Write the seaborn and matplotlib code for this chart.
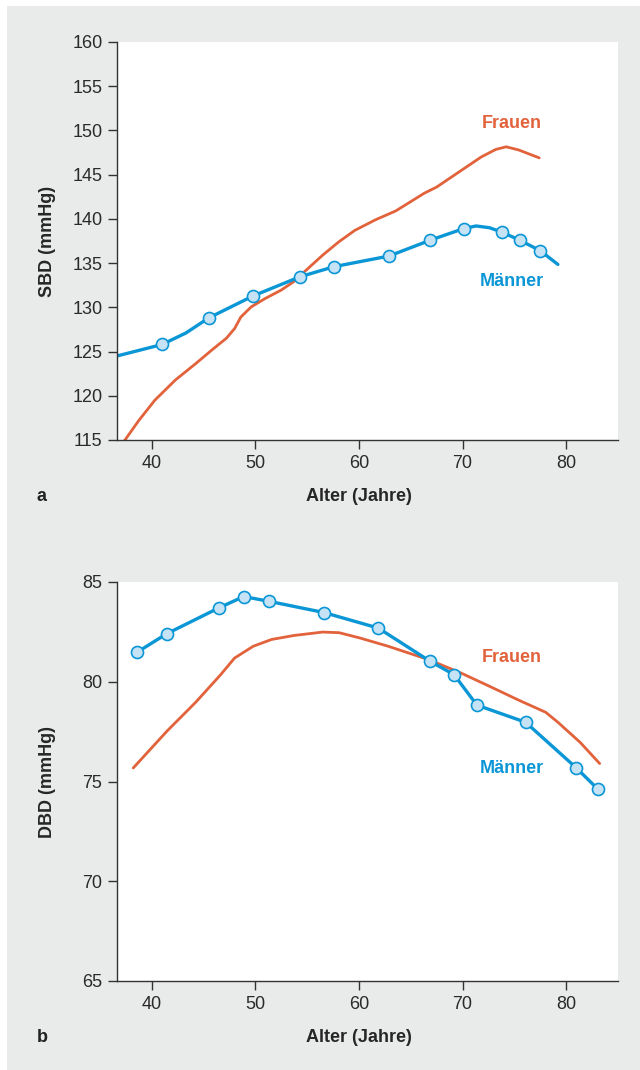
import matplotlib
matplotlib.use("Agg")
import matplotlib.pyplot as plt
import matplotlib.patches as patches
import pandas as pd
import seaborn as sns

# -----------------------------
# Data
# -----------------------------
# Panel a: systolic blood pressure (SBD)
frauen_a_age = [37.36, 38.75, 40.3, 42.3, 44.26, 45.83, 47.2, 48.0, 48.6, 49.6, 50.95,
                52.5, 53.7, 54.9, 56.5, 58.05, 59.6, 61.6, 63.55, 66.3, 67.5, 69.9,
                71.8, 73.2, 74.2, 75.4, 77.4]
frauen_a_sbd = [114.9, 117.2, 119.5, 121.8, 123.65, 125.2, 126.5, 127.6, 128.9, 130.05, 131.0,
                131.95, 132.9, 134.2, 135.9, 137.4, 138.7, 139.9, 140.9, 142.9, 143.6, 145.5,
                147.0, 147.85, 148.15, 147.8, 146.9]

maenner_a_age = [41.0, 45.5, 49.8, 54.3, 57.6, 62.9, 66.9, 70.1, 73.8, 75.5, 77.5]
maenner_a_sbd = [125.8, 128.8, 131.3, 133.45, 134.6, 135.8, 137.6, 138.9, 138.5, 137.6, 136.4]

# line trace of the men's curve (markers plus start, peak and end of the drawn curve)
maenner_a_line_age = [36.65, 41.0, 43.3, 45.5, 49.8, 54.3, 57.6, 62.9, 66.9, 70.1, 71.3,
                      72.6, 73.8, 75.5, 77.5, 79.2]
maenner_a_line_sbd = [124.5, 125.8, 127.1, 128.8, 131.3, 133.45, 134.6, 135.8, 137.6, 138.9, 139.2,
                      139.0, 138.5, 137.6, 136.4, 134.85]

# Panel b: diastolic blood pressure (DBD)
frauen_b_age = [38.22, 41.5, 44.26, 46.63, 48.0, 49.8, 51.57, 53.74, 56.5, 58.08, 60.05,
                62.82, 66.77, 69.92, 72.69, 75.45, 78.02, 79.2, 81.37, 83.23]
frauen_b_dbd = [75.68, 77.54, 78.98, 80.34, 81.19, 81.78, 82.12, 82.32, 82.49, 82.46, 82.2,
                81.78, 81.1, 80.42, 79.75, 79.07, 78.47, 77.97, 76.95, 75.9]

maenner_b_age = [38.62, 41.46, 46.51, 48.88, 51.33, 56.62, 61.87, 66.88, 69.17, 71.38, 76.08,
                 80.98, 83.03]
maenner_b_dbd = [81.49, 82.41, 83.71, 84.27, 84.03, 83.47, 82.69, 81.02, 80.36, 78.83, 77.97,
                 75.68, 74.63]

x_ticks = [40, 50, 60, 70, 80]
sbd_ticks = [115, 120, 125, 130, 135, 140, 145, 150, 155, 160]
dbd_ticks = [65, 70, 75, 80, 85]

# -----------------------------
# Style
# -----------------------------
ORANGE = "#e2623b"
BLUE = "#0b96d6"
LIGHTBLUE = "#c6e3f5"
AXIS = "#333333"
GREY_BG = "#e9eaea"

sns.set_style("ticks")
plt.rcParams["font.family"] = ["Liberation Sans", "DejaVu Sans"]
plt.rcParams["axes.edgecolor"] = AXIS
plt.rcParams["xtick.color"] = AXIS
plt.rcParams["ytick.color"] = AXIS

fig = plt.figure(figsize=(6.4, 10.7), dpi=100)
fig.patch.set_facecolor("white")
bg = patches.Rectangle((7 / 640, 0), 1, 1 - 6 / 1070, transform=fig.transFigure,
                       facecolor=GREY_BG, edgecolor="none", zorder=-10)
fig.patches.append(bg)

ax_a = fig.add_axes([117 / 640, 1 - 440 / 1070, 501 / 640, 398 / 1070])
ax_b = fig.add_axes([117 / 640, 1 - 981 / 1070, 501 / 640, 399 / 1070])

df_fa = pd.DataFrame({"age": frauen_a_age, "val": frauen_a_sbd})
df_ma_line = pd.DataFrame({"age": maenner_a_line_age, "val": maenner_a_line_sbd})
df_ma = pd.DataFrame({"age": maenner_a_age, "val": maenner_a_sbd})
df_fb = pd.DataFrame({"age": frauen_b_age, "val": frauen_b_dbd})
df_mb = pd.DataFrame({"age": maenner_b_age, "val": maenner_b_dbd})

# -----------------------------
# Panel a
# -----------------------------
sns.lineplot(data=df_fa, x="age", y="val", ax=ax_a, color=ORANGE, lw=2.0,
             sort=False, estimator=None)
sns.lineplot(data=df_ma_line, x="age", y="val", ax=ax_a, color=BLUE, lw=2.4,
             sort=False, estimator=None)
sns.scatterplot(data=df_ma, x="age", y="val", ax=ax_a, color=LIGHTBLUE, edgecolor=BLUE,
                linewidth=1.2, s=75, zorder=5)
ax_a.set_ylim(115, 160)
ax_a.set_yticks(sbd_ticks)
ax_a.set_ylabel("SBD (mmHg)")
ax_a.text(74.75, 150.8, "Frauen", color=ORANGE, fontsize=13, fontweight="bold",
          ha="center", va="center")
ax_a.text(74.75, 132.9, "Männer", color=BLUE, fontsize=13, fontweight="bold",
          ha="center", va="center")

# -----------------------------
# Panel b
# -----------------------------
sns.lineplot(data=df_fb, x="age", y="val", ax=ax_b, color=ORANGE, lw=2.0,
             sort=False, estimator=None)
sns.lineplot(data=df_mb, x="age", y="val", ax=ax_b, color=BLUE, lw=2.4,
             sort=False, estimator=None)
sns.scatterplot(data=df_mb, x="age", y="val", ax=ax_b, color=LIGHTBLUE, edgecolor=BLUE,
                linewidth=1.2, s=75, zorder=5)
ax_b.set_ylim(65, 85)
ax_b.set_yticks(dbd_ticks)
ax_b.set_ylabel("DBD (mmHg)")
ax_b.text(74.75, 81.22, "Frauen", color=ORANGE, fontsize=13, fontweight="bold",
          ha="center", va="center")
ax_b.text(74.75, 75.64, "Männer", color=BLUE, fontsize=13, fontweight="bold",
          ha="center", va="center")

# -----------------------------
# Shared axis formatting
# -----------------------------
for ax, letter in [(ax_a, "a"), (ax_b, "b")]:
    ax.set_facecolor("white")
    ax.set_xlim(36.65, 85.0)
    ax.set_xticks(x_ticks)
    ax.set_xlabel("Alter (Jahre)", fontsize=13, fontweight="bold", va="center")
    ax.xaxis.set_label_coords(0.483, -0.141)
    ax.yaxis.label.set_fontsize(13)
    ax.yaxis.label.set_fontweight("bold")
    ax.yaxis.label.set_va("center")
    ax.yaxis.set_label_coords(-0.138, 0.5)
    sns.despine(ax=ax)
    for side in ["left", "bottom"]:
        ax.spines[side].set_linewidth(1.0)
    ax.tick_params(axis="both", length=6.5, width=1.0, labelsize=13, pad=4, labelcolor="#2a2a2a")
    ax.text(-0.15, -0.141, letter, transform=ax.transAxes, fontsize=13, fontweight="bold",
            ha="center", va="center", color="#222222")

plt.savefig("out.png", dpi=100, facecolor=fig.get_facecolor())
